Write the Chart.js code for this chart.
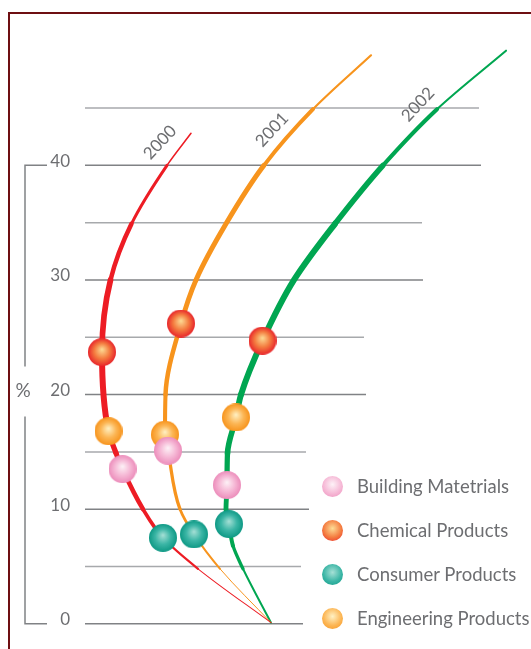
<!DOCTYPE html>
<html>
<head>
<meta charset="utf-8">
<script src="https://cdn.jsdelivr.net/npm/chart.js@4/dist/chart.umd.min.js"></script>
<style>
  html, body { margin: 0; padding: 0; background: #fff; }
  #wrap { position: relative; width: 531px; height: 649px; overflow: hidden; }
  #frame { position: absolute; left: 8px; top: 12px; width: 640px; height: 720px;
           border-top: 2.5px solid #6e0f12; border-left: 2.5px solid #6e0f12; box-sizing: border-box; }
  #chart { position: absolute; left: 0; top: 0; }
  #legend { position: absolute; left: 322px; top: 464px; margin: 0; padding: 0; list-style: none;
            font-family: Lato, "Open Sans", sans-serif; font-size: 18.5px; color: #6d6e71; }
  #legend li { height: 44px; display: flex; align-items: center; white-space: nowrap; }
  #legend .ball { width: 21px; height: 21px; border-radius: 50%; margin-right: 14px; flex: none; }
</style>
</head>
<body>
<div id="wrap">
  <div id="frame"></div>
  <canvas id="chart" width="531" height="649"></canvas>
  <ul id="legend"></ul>
</div>
<script>
// ---- data -------------------------------------------------------------
const years = ['2000', '2001', '2002'];
const categories = ['Building Matetrials', 'Chemical Products', 'Consumer Products', 'Engineering Products'];

// share (%) per year
const buildingValues    = [13.5, 15.1, 12.1];
const chemicalValues    = [23.7, 26.2, 24.7];
const consumerValues    = [7.5, 7.8, 8.7];
const engineeringValues = [16.8, 16.5, 18.0];

// horizontal place of each marker on its year's arc
const buildingX    = [7.5, 16.6, 28.4];
const chemicalX    = [3.4, 19.2, 35.5];
const consumerX    = [15.6, 21.8, 28.8];
const engineeringX = [4.7, 16.0, 30.2];

// extra points that shape each year's arc between the markers
const trail2000 = [[37.2, 0.1], [22.6, 4.8], [11.6, 10.0], [6.2, 14.9], [5.1, 30.0], [9.3, 34.9], [16.4, 40.0], [21.2, 42.8]];
const trail2001 = [[37.2, 0.1], [27.0, 4.8], [19.0, 10.0], [16.1, 20.0], [22.2, 30.0], [28.2, 34.9], [35.8, 40.0], [45.6, 44.9], [57.2, 49.6]];
const trail2002 = [[37.2, 0.1], [31.6, 4.8], [29.6, 6.8], [28.2, 10.0], [28.5, 14.9], [31.2, 20.0], [41.8, 30.0], [50.0, 34.9], [59.6, 40.0], [70.4, 44.9], [84.2, 50.0]];

const yTicks = [0, 10, 20, 30, 40];
const gridLevels = [0, 5, 10, 15, 20, 25, 30, 35, 40, 45];
const gridEnds   = [43.6, 43.2, 44.8, 44.2, 56.2, 55.8, 67.6, 67.4, 79.2, 78.8];

// ---- styling ----------------------------------------------------------
const FONT = 'Lato, "Open Sans", sans-serif';
const TEXT = '#6d6e71';
const arcColors = ['#ed1c24', '#f7941d', '#00a651'];
// stroke thickness along each arc, as [y, width] knots
const arcThickness = [
  [[0, 0.6], [4.8, 1.4], [7.5, 3], [10, 4.2], [14, 5], [20, 6], [25, 6], [30, 5.2], [35, 3.8], [40, 2.2], [43, 0.8]],
  [[0, 0.6], [5, 1.4], [8, 2.6], [12, 3.2], [20, 4.3], [30, 5], [38, 5], [45, 3.4], [49.6, 1]],
  [[0, 1], [5, 3], [9, 4.5], [15, 5.5], [20, 6], [35, 6], [40, 5], [45, 3.2], [50, 1]]
];
const ballColors = [
  ['#fdf2f7', '#f6b9d6', '#ec8dbb'],
  ['#fddc95', '#f47c40', '#e8262b'],
  ['#a6e0d6', '#3cb6a6', '#0e9985'],
  ['#fff1c4', '#fcb655', '#f7941d']
];

function sphere(d, c) {
  const cv = document.createElement('canvas');
  cv.width = cv.height = d;
  const g = cv.getContext('2d');
  const r = d / 2;
  const grad = g.createRadialGradient(r * 1.0, r * 0.8, 0, r, r, r);
  grad.addColorStop(0, c[0]);
  grad.addColorStop(0.55, c[1]);
  grad.addColorStop(1, c[2]);
  g.fillStyle = grad;
  g.beginPath();
  g.arc(r, r, r, 0, Math.PI * 2);
  g.fill();
  return cv;
}

function thicknessAt(knots, y) {
  if (y <= knots[0][0]) return knots[0][1];
  for (let i = 1; i < knots.length; i++) {
    if (y <= knots[i][0]) {
      const [y0, w0] = knots[i - 1], [y1, w1] = knots[i];
      return w0 + (w1 - w0) * (y - y0) / (y1 - y0);
    }
  }
  return knots[knots.length - 1][1];
}

// ---- datasets ---------------------------------------------------------
const markerSets = [
  [buildingValues, buildingX],
  [chemicalValues, chemicalX],
  [consumerValues, consumerX],
  [engineeringValues, engineeringX]
];

const markerDatasets = categories.map((name, k) => ({
  type: 'scatter',
  label: name,
  data: markerSets[k][0].map((v, i) => ({ x: markerSets[k][1][i], y: v })),
  pointStyle: sphere(28, ballColors[k]),
  pointRadius: 14,
  ballColors: ballColors[k],
  order: 1
}));

const trails = [trail2000, trail2001, trail2002];
const arcDatasets = years.map((yr, i) => {
  const pts = trails[i].map(p => ({ x: p[0], y: p[1] }));
  markerSets.forEach(([vals, xs]) => pts.push({ x: xs[i], y: vals[i] }));
  pts.sort((a, b) => a.y - b.y);
  return {
    type: 'line',
    label: yr,
    data: pts,
    indexAxis: 'y',
    cubicInterpolationMode: 'monotone',
    borderColor: arcColors[i],
    borderWidth: 4,
    borderCapStyle: 'round',
    borderJoinStyle: 'round',
    pointRadius: 0,
    fill: false,
    clip: false,
    order: 2,
    segment: {
      borderWidth: ctx => thicknessAt(arcThickness[i], (pts[ctx.p0DataIndex].y + pts[ctx.p1DataIndex].y) / 2)
    }
  };
});

const gridDatasets = gridLevels.map((lv, i) => ({
  type: 'line',
  label: 'grid' + lv,
  data: [{ x: 0, y: lv }, { x: gridEnds[i], y: lv }],
  borderColor: lv % 10 === 0 ? '#808285' : '#a7a9ac',
  borderWidth: 1.5,
  pointRadius: 0,
  clip: false,
  order: 3
}));

// ---- plugins ----------------------------------------------------------
const axisBracket = {
  id: 'axisBracket',
  afterDraw(chart) {
    const y = chart.scales.y, c = chart.ctx;
    const top = y.getPixelForValue(40), bottom = y.getPixelForValue(0);
    const mid = y.getPixelForValue(20) - 4;
    c.save();
    c.strokeStyle = '#808285';
    c.lineWidth = 1.5;
    c.beginPath();
    c.moveTo(47, top); c.lineTo(25, top); c.lineTo(25, mid - 24);
    c.moveTo(25, mid + 26); c.lineTo(25, bottom); c.lineTo(47, bottom);
    c.stroke();
    c.fillStyle = TEXT;
    c.font = '19px ' + FONT;
    c.textAlign = 'center';
    c.textBaseline = 'middle';
    c.fillText('%', 23, mid);
    c.restore();
  }
};

const yearLabels = {
  id: 'yearLabels',
  afterDraw(chart, args, opts) {
    const c = chart.ctx, xs = chart.scales.x, ys = chart.scales.y;
    c.save();
    c.fillStyle = TEXT;
    c.font = '17px ' + FONT;
    c.textAlign = 'center';
    c.textBaseline = 'middle';
    years.forEach((yr, i) => {
      const [ax, ay] = opts.anchors[i];
      c.save();
      c.translate(xs.getPixelForValue(ax), ys.getPixelForValue(ay));
      c.rotate(opts.angle * Math.PI / 180);
      c.fillText(yr, 0, 0);
      c.restore();
    });
    c.restore();
  }
};

const htmlLegend = {
  id: 'htmlLegend',
  afterUpdate(chart) {
    const ul = document.getElementById('legend');
    ul.innerHTML = '';
    chart.data.datasets.filter(d => d.ballColors).forEach(ds => {
      const li = document.createElement('li');
      const ball = document.createElement('span');
      ball.className = 'ball';
      const c = ds.ballColors;
      ball.style.background = `radial-gradient(circle at 50% 40%, ${c[0]} 0%, ${c[1]} 55%, ${c[2]} 100%)`;
      li.appendChild(ball);
      li.appendChild(document.createTextNode(ds.label));
      ul.appendChild(li);
    });
  }
};

new Chart(document.getElementById('chart'), {
  type: 'scatter',
  data: { datasets: [...markerDatasets, ...arcDatasets, ...gridDatasets] },
  options: {
    responsive: false,
    animation: false,
    events: [],
    layout: { padding: { left: 0, right: 6, top: 27.8, bottom: 23.8 } },
    scales: {
      x: { type: 'linear', min: 0, max: 86.2, display: false },
      y: {
        type: 'linear', min: 0, max: 52, position: 'left',
        grid: { display: false, drawTicks: false },
        border: { display: false },
        afterBuildTicks: s => { s.ticks = yTicks.map(v => ({ value: v })); },
        afterFit: s => { s.width = 85; },
        ticks: { font: { family: FONT, size: 17 }, color: TEXT, padding: 15, labelOffset: -4 }
      }
    },
    plugins: {
      legend: { display: false },
      tooltip: { enabled: false },
      yearLabels: { anchors: [[15.0, 42.0], [37.4, 43.1], [66.6, 45.3]], angle: -47 }
    }
  },
  plugins: [axisBracket, yearLabels, htmlLegend]
});
</script>
</body>
</html>
